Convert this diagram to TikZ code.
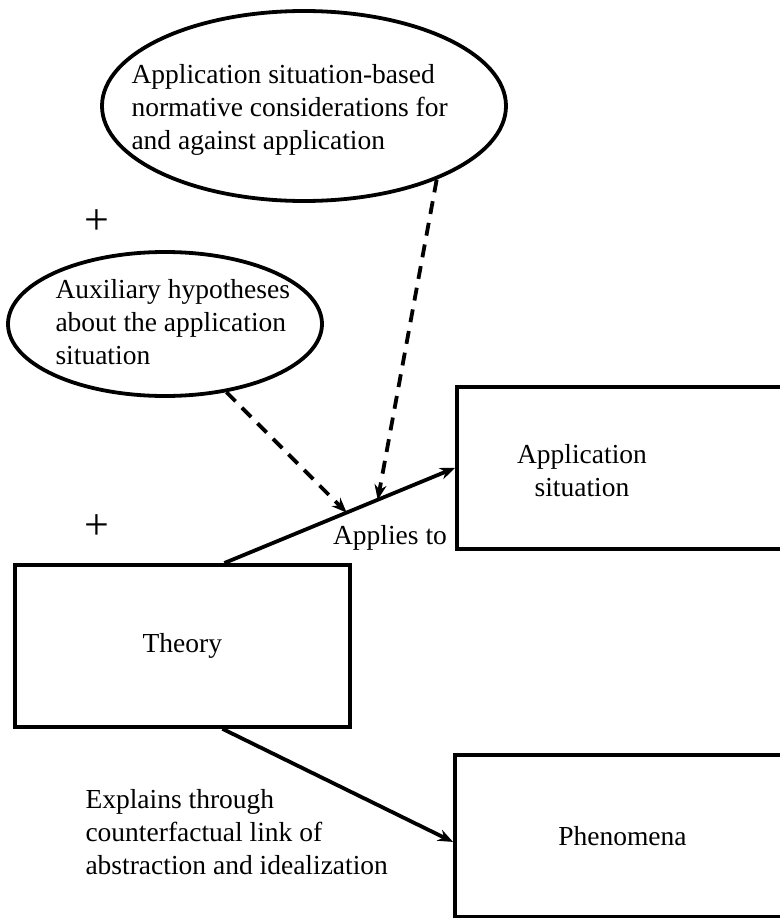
\documentclass[tikz,border=0pt]{standalone}
\usepackage{fontspec}
\setmainfont{Liberation Serif}
\usetikzlibrary{shapes.geometric,arrows.meta}
\begin{document}
\begin{tikzpicture}[x=1pt,y=-1pt,
    every node/.style={font=\fontsize{27.5}{33}\selectfont},
    bubble/.style={draw, ellipse, line width=3.8pt, inner sep=0pt},
    box/.style={draw, rectangle, line width=3.8pt, anchor=north west, inner sep=0pt},
    link/.style={line width=3.8pt, -{Stealth[length=15pt,width=12pt]}},
    hint/.style={link, dash pattern=on 13pt off 9pt},
    plus/.style={font=\fontsize{44}{44}\selectfont}]
    \useasboundingbox (0,0) rectangle (779,918);
    % the two bubbles
    \node[bubble, minimum width=404, minimum height=190] (norms) at (304,106) {};
    \node[align=left, anchor=west] (normtxt) at (128,110) {Application situation-based\\normative considerations for\\and against application};
    \node[plus] (plusA) at (97,222) {+};
    \node[bubble, minimum width=314, minimum height=144] (aux) at (165,324) {};
    \node[align=left, anchor=west] (auxtxt) at (52,322) {Auxiliary hypotheses\\about the application\\situation};
    \node[plus] (plusB) at (97,527) {+};
    % the boxes
    \node[box, minimum width=335, minimum height=162] (theory) at (13,563) {Theory};
    \node[box, minimum width=335, minimum height=162] (app) at (455,385) {};
    \node[align=center] (apptxt) at (582,471) {Application\\situation};
    \node[box, minimum width=335, minimum height=162] (phen) at (453,753) {Phenomena};
    % arrows
    \draw[link] ([xshift=42pt]theory.north) -- coordinate[pos=0.53] (hitA) coordinate[pos=0.665] (hitB) (app.west);
    \node (applies) at (390,538) {Applies to};
    \draw[hint] (aux.-48) -- (hitA);
    \draw[hint] (norms.-29) -- (hitB);
    \draw[link] ([xshift=40pt]theory.south) -- ([yshift=-6pt]phen.west);
    \node[align=left, anchor=north west] (explains) at (82,786) {Explains through\\counterfactual link of\\abstraction and idealization};
\end{tikzpicture}
\end{document}
